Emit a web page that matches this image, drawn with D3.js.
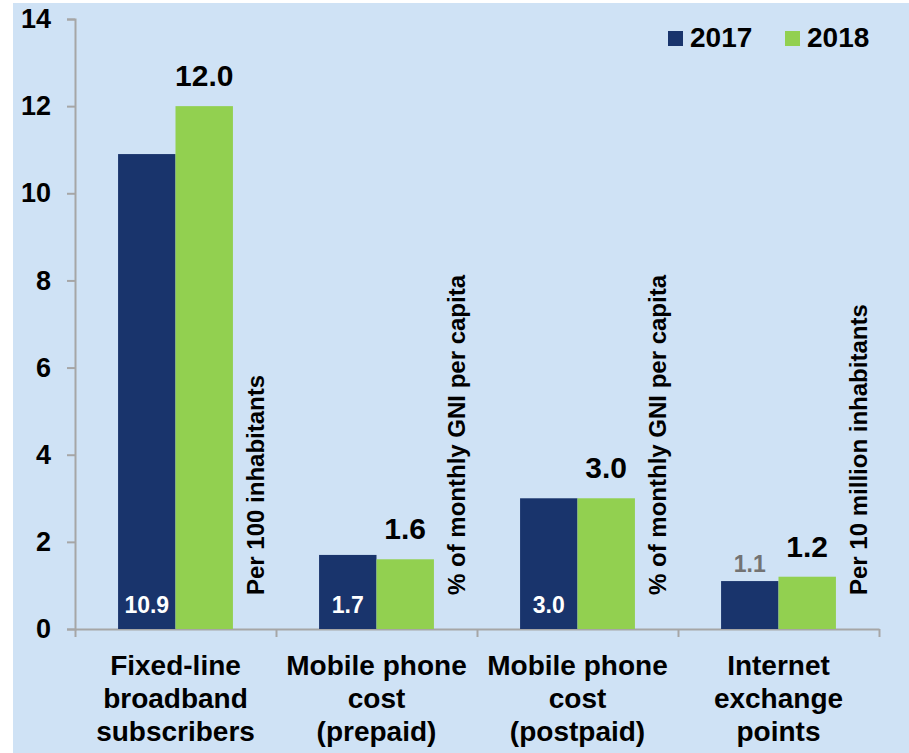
<!DOCTYPE html>
<html>
<head>
<meta charset="utf-8">
<script src="https://cdnjs.cloudflare.com/ajax/libs/d3/7.8.5/d3.min.js"></script>
<style>
  body { margin: 0; background: #fff; }
  text { font-family: "Liberation Sans", Arial, sans-serif; font-weight: bold; }
</style>
</head>
<body>
<div id="chart-area"></div>
<script>
// data
var categories = [
  ["Fixed-line", "broadband", "subscribers"],
  ["Mobile phone", "cost", "(prepaid)"],
  ["Mobile phone", "cost", "(postpaid)"],
  ["Internet", "exchange", "points"]
];
var units = ["Per 100 inhabitants", "% of monthly GNI per capita", "% of monthly GNI per capita", "Per 10 million inhabitants"];
var years = ["2017", "2018"];
var values2017 = [10.9, 1.7, 3.0, 1.1];
var values2018 = [12.0, 1.6, 3.0, 1.2];
var yTicks = [0, 2, 4, 6, 8, 10, 12, 14];

var colors = { "2017": "#19346c", "2018": "#92d050" };

var W = 909, H = 753;
var margin = { left: 75, right: 30, top: 19, bottom: 124 };
var width = W - margin.left - margin.right;
var height = H - margin.top - margin.bottom;

var svg = d3.select("#chart-area").append("svg")
  .attr("width", W)
  .attr("height", H);

svg.append("rect")
  .attr("x", 13).attr("y", 3)
  .attr("width", W - 13).attr("height", H - 3)
  .attr("fill", "#cfe2f5");

var g = svg.append("g")
  .attr("transform", "translate(" + margin.left + "," + margin.top + ")");

var idx = categories.map(function(d, i) { return i; });

// X scales
var x0 = d3.scaleBand().domain(idx).range([0, width]).padding(0);
var x1 = d3.scaleBand().domain(years).range([0, x0.bandwidth()])
  .paddingInner(0).paddingOuter(0.75);
var xEdge = d3.scaleLinear().domain([0, categories.length]).range([0, width]);

// Y scale
var y = d3.scaleLinear().domain([0, 14]).range([height, 0]);

// Y axis
var yAxis = g.append("g")
  .call(d3.axisLeft(y).tickValues(yTicks).tickSize(8).tickPadding(16));
yAxis.selectAll("path, line").attr("stroke", "#a6a6a6").attr("stroke-width", 2);
yAxis.selectAll("text")
  .attr("font-size", "27px")
  .attr("fill", "#000")
  .attr("font-family", "Liberation Sans, Arial, sans-serif")
  .attr("font-weight", "bold");

// X axis (ticks at category boundaries)
var xAxis = g.append("g")
  .attr("transform", "translate(0," + height + ")")
  .call(d3.axisBottom(xEdge).tickValues(d3.range(0, categories.length + 1))
    .tickSize(8).tickSizeOuter(0).tickFormat(""));
xAxis.selectAll("path, line").attr("stroke", "#a6a6a6").attr("stroke-width", 2);

// rows of data
var rows = idx.map(function(i) {
  return { i: i, v2017: values2017[i], v2018: values2018[i] };
});

var groups = g.selectAll(".cat")
  .data(rows)
  .enter().append("g")
    .attr("class", "cat")
    .attr("transform", function(d) { return "translate(" + x0(d.i) + ",0)"; });

groups.selectAll("rect")
  .data(function(d) {
    return [{ year: "2017", v: d.v2017 }, { year: "2018", v: d.v2018 }];
  })
  .enter().append("rect")
    .attr("x", function(d) { return x1(d.year); })
    .attr("y", function(d) { return y(d.v); })
    .attr("width", x1.bandwidth())
    .attr("height", function(d) { return height - y(d.v); })
    .attr("fill", function(d) { return colors[d.year]; });

// 2018 value labels above bars
groups.append("text")
  .attr("x", x1("2018") + x1.bandwidth() / 2)
  .attr("y", function(d) { return y(d.v2018) - 20; })
  .attr("text-anchor", "middle")
  .attr("font-size", "30px")
  .attr("fill", "#000")
  .text(function(d) { return d.v2018.toFixed(1); });

// 2017 value labels: white inside the bar, or grey above a short bar
groups.append("text")
  .attr("x", x1("2017") + x1.bandwidth() / 2)
  .attr("y", function(d) {
    return d.v2017 < 1.5 ? y(d.v2017) - 9 : height - 16;
  })
  .attr("text-anchor", "middle")
  .attr("font-size", "23px")
  .attr("fill", function(d) { return d.v2017 < 1.5 ? "#737373" : "#fff"; })
  .text(function(d) { return d.v2017.toFixed(1); });

// unit labels (rotated)
groups.append("text")
  .attr("transform", "translate(" + (x0.bandwidth() - 12) + "," + (height - 34) + ") rotate(-90)")
  .attr("font-size", "24px")
  .attr("fill", "#000")
  .text(function(d) { return units[d.i]; });

// category labels
var catLabels = groups.append("text")
  .attr("text-anchor", "middle")
  .attr("font-size", "28px")
  .attr("fill", "#000");
catLabels.selectAll("tspan")
  .data(function(d) { return categories[d.i]; })
  .enter().append("tspan")
    .attr("x", x0.bandwidth() / 2)
    .attr("y", function(d, j) { return height + 46 + j * 33; })
    .text(function(d) { return d; });

// legend
var legend = svg.append("g").attr("transform", "translate(668,31)");
var items = legend.selectAll(".item")
  .data(years)
  .enter().append("g")
    .attr("class", "item")
    .attr("transform", function(d, i) { return "translate(" + (i * 117) + ",0)"; });
items.append("rect")
  .attr("width", 15).attr("height", 15)
  .attr("fill", function(d) { return colors[d]; });
items.append("text")
  .attr("x", 22).attr("y", 16)
  .attr("font-size", "28px")
  .attr("fill", "#000")
  .text(function(d) { return d; });
</script>
</body>
</html>
